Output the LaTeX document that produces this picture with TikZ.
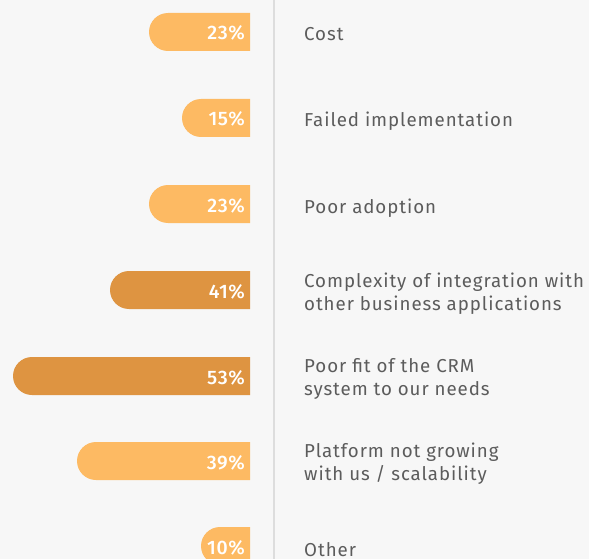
\documentclass[tikz,border=0pt]{standalone}
\usepackage{fontspec}
\setmainfont{Fira Sans}[LetterSpace=5]
\newfontfamily\pctfont{Fira Sans Medium}[LetterSpace=3]
\definecolor{bg}{HTML}{F7F7F7}
\definecolor{barlight}{HTML}{FDBA63}
\definecolor{bardark}{HTML}{DE9441}
\definecolor{labelgray}{HTML}{5C5C5C}
\definecolor{sepgray}{HTML}{DDDDDD}
\tikzset{
  pct/.style={anchor=base east, inner sep=0pt, text=white, font=\pctfont\fontsize{19.5}{20}\selectfont},
  lbl/.style={anchor=base west, inner sep=0pt, text=labelgray, align=left, font=\fontsize{18.7}{22.5}\selectfont},
}
\newcommand{\drawbarx}[5]{% left, center y, color, name, pct
  \fill[#3] (250,#2-19) -- (#1+19,#2-19) arc (270:90:19) -- (250,#2+19) -- cycle;
  \node[pct] (#4) at (245,#2+8) {#5};
}
\begin{document}
\begin{tikzpicture}[x=1pt,y=-1pt]
\fill[bg] (0,0) rectangle (589,559);
\useasboundingbox (0,0) rectangle (589,559);
\clip (0,0) rectangle (589,559);
\draw[sepgray, line width=1.6pt] (274,0) -- (274,559);
\drawbarx{149}{32}{barlight}{p1}{23\%}
\drawbarx{182}{118}{barlight}{p2}{15\%}
\drawbarx{149}{204}{barlight}{p3}{23\%}
\drawbarx{110}{290}{bardark}{p4}{41\%}
\drawbarx{13}{376}{bardark}{p5}{53\%}
\drawbarx{77}{461}{barlight}{p6}{39\%}
\drawbarx{201}{546}{barlight}{p7}{10\%}
\node[lbl] (l1) at (304,41) {Cost};
\node[lbl] (l2) at (304,127) {Failed implementation};
\node[lbl] (l3) at (304,213) {Poor adoption};
\node[lbl] (l4) at (304,310) {Complexity of integration with\\other business applications};
\node[lbl] (l5) at (304,395) {Poor fit of the CRM\\system to our needs};
\node[lbl] (l6) at (304,480) {Platform not growing\\with us / scalability};
\node[lbl] (l7) at (304,556) {Other};
\end{tikzpicture}
\end{document}
